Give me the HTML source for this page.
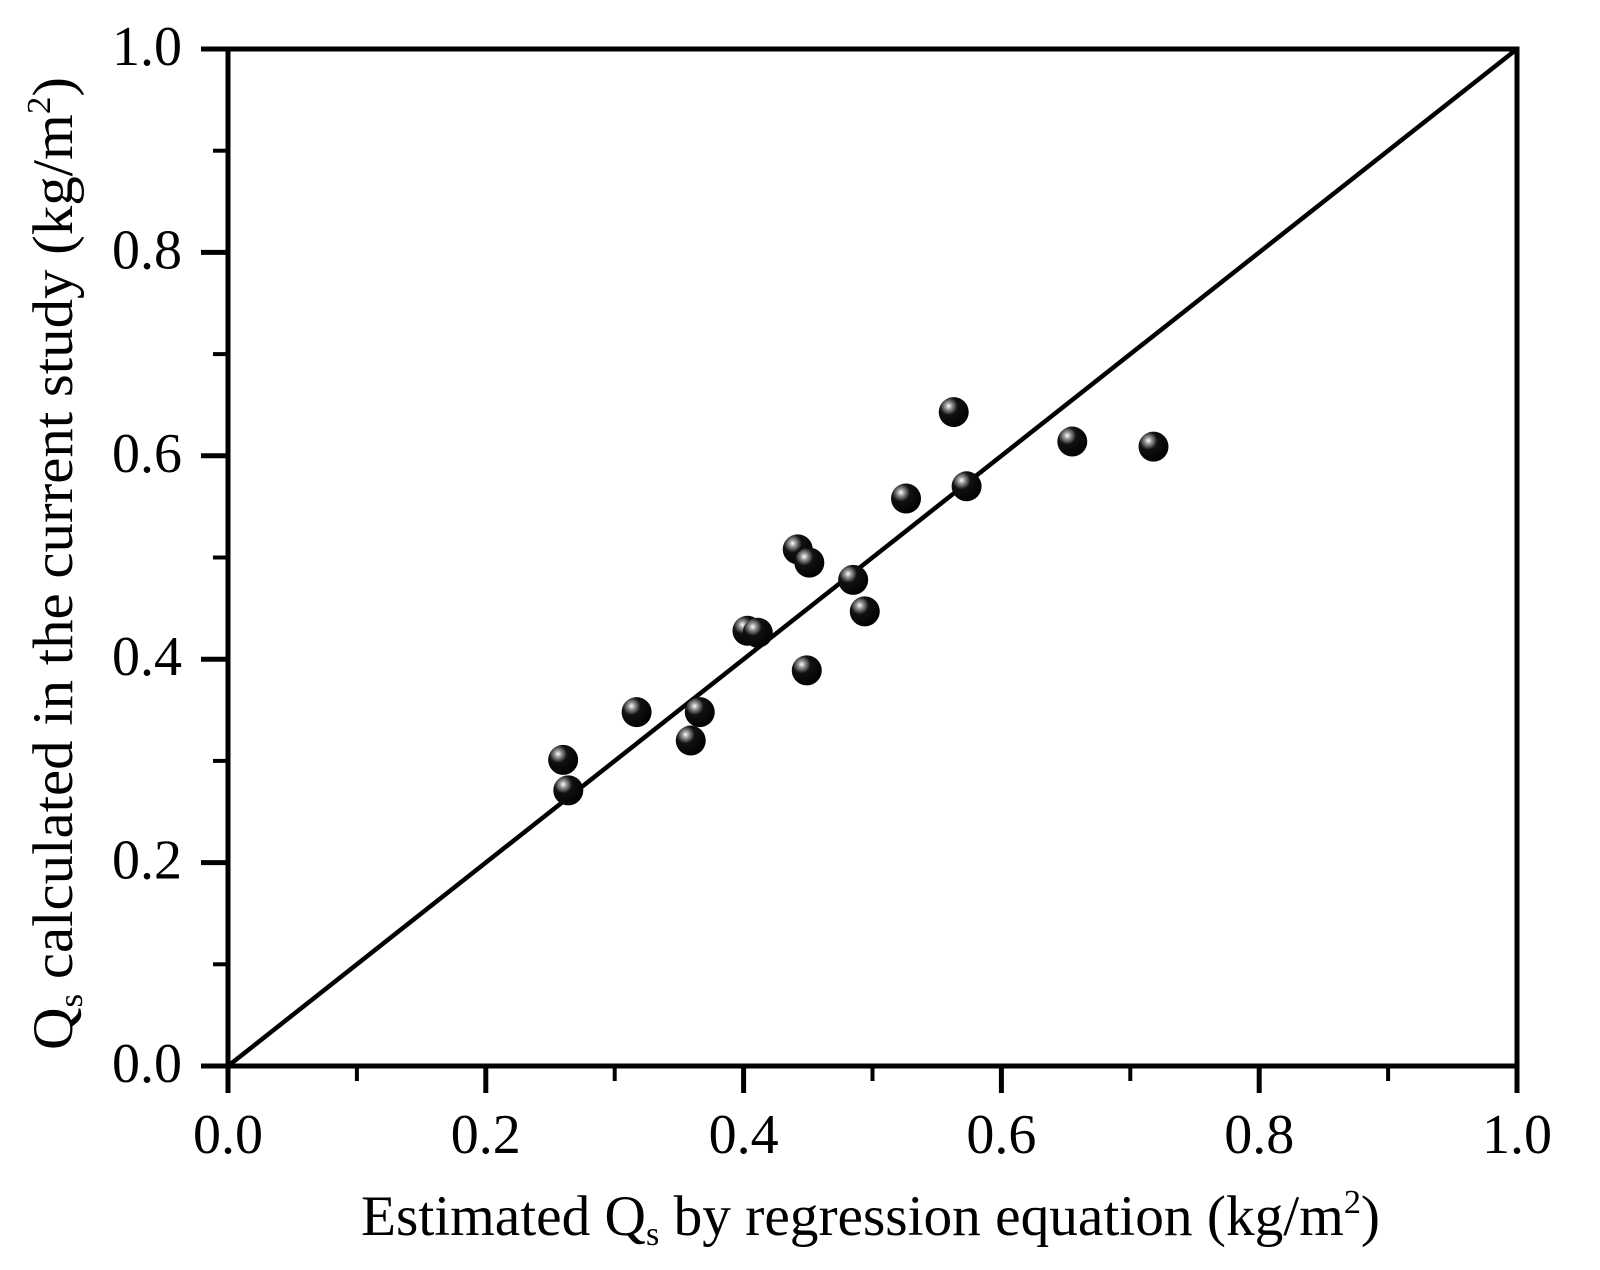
<!DOCTYPE html>
<html><head><meta charset="utf-8"><style>
html,body{margin:0;padding:0;background:#fff;}
svg{display:block;font-family:"Liberation Serif",serif;}
</style></head><body>
<svg id="chart" width="1600" height="1270" viewBox="0 0 1600 1270">
<defs><radialGradient id="ball" cx="0.33" cy="0.3" r="0.75"><stop offset="0" stop-color="#fff"/><stop offset="0.15" stop-color="#999"/><stop offset="0.4" stop-color="#111"/><stop offset="1" stop-color="#000"/></radialGradient></defs>
<g id="ticks"></g>
<g id="marks"></g>
<rect x="228" y="49" width="1289" height="1017" fill="none" stroke="#000" stroke-width="5"/>
<text x="361" y="1235" font-size="57" textLength="1019" lengthAdjust="spacingAndGlyphs">Estimated Q<tspan font-size="34" dy="10">s</tspan><tspan dy="-10"> by regression equation (kg/m</tspan><tspan font-size="34" dy="-22">2</tspan><tspan dy="22">)</tspan></text>
<text transform="translate(72,1050) rotate(-90)" font-size="57" textLength="973" lengthAdjust="spacingAndGlyphs">Q<tspan font-size="34" dy="10">s</tspan><tspan dy="-10"> calculated in the current study (kg/m</tspan><tspan font-size="34" dy="-22">2</tspan><tspan dy="22">)</tspan></text>
</svg>
<script>
const xValues=[0.260,0.264,0.317,0.359,0.366,0.403,0.411,0.442,0.451,0.449,0.485,0.494,0.526,0.563,0.573,0.655,0.718];
const yValues=[0.301,0.271,0.348,0.320,0.348,0.428,0.426,0.508,0.495,0.389,0.478,0.447,0.558,0.643,0.570,0.614,0.609];
const tickLabels=["0.0","0.2","0.4","0.6","0.8","1.0"];
const tickValues=[0,0.2,0.4,0.6,0.8,1.0];
const minorValues=[0.1,0.3,0.5,0.7,0.9];
const L=228,R=1517,T=49,B=1066;
const sx=v=>L+v*(R-L), sy=v=>B-v*(B-T);
const NS="http://www.w3.org/2000/svg";
const tg=document.getElementById('ticks'), mg=document.getElementById('marks');
function mk(tag,attrs,parent){const e=document.createElementNS(NS,tag);for(const k in attrs)e.setAttribute(k,attrs[k]);parent.appendChild(e);return e;}
tickValues.forEach((v,i)=>{
  const a=mk('line',{x1:sx(v),x2:sx(v),y1:B,y2:B+27,stroke:'#000','stroke-width':5},tg);
  
  
  const b=mk('line',{x1:L-27,x2:L,y1:sy(v),y2:sy(v),stroke:'#000','stroke-width':5},tg);
  
  
  const tx=mk('text',{x:sx(v),y:1153,'font-size':56,'text-anchor':'middle'},tg);tx.textContent=tickLabels[i];
  
  
  const ty=mk('text',{x:182,y:sy(v)+16,'font-size':56,'text-anchor':'end'},tg);ty.textContent=tickLabels[i];
  
  
});
minorValues.forEach(v=>{
  const a=mk('line',{x1:sx(v),x2:sx(v),y1:B,y2:B+15,stroke:'#000','stroke-width':4},tg);
  
  
  const b=mk('line',{x1:L-15,x2:L,y1:sy(v),y2:sy(v),stroke:'#000','stroke-width':4},tg);
  
  
});
const ln=mk('line',{x1:sx(0),y1:sy(0),x2:sx(1),y2:sy(1),stroke:'#000','stroke-width':4.5},mg);


xValues.forEach((x,i)=>{
  const c=mk('circle',{cx:sx(x),cy:sy(yValues[i]),r:15,fill:'url(#ball)'},mg);
  
  
});
</script>
</body></html>
